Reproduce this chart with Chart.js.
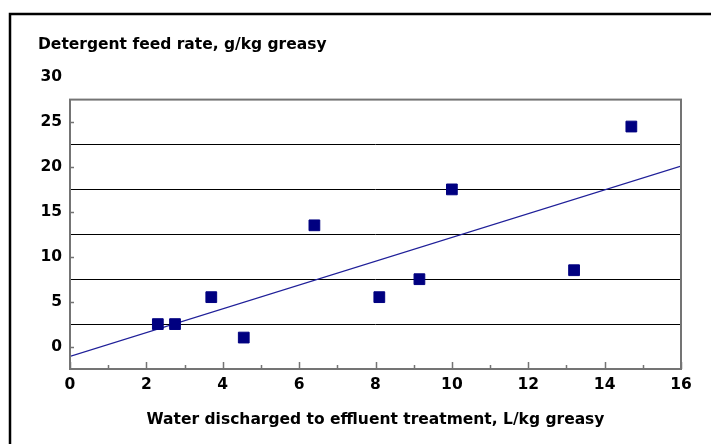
<!DOCTYPE html>
<html>
<head>
<meta charset="utf-8">
<script src="https://cdn.jsdelivr.net/npm/chart.js@4/dist/chart.umd.min.js"></script>
<style>
  html, body { margin: 0; padding: 0; background: #ffffff; }
  #wrap { width: 711px; height: 444px; position: relative; }
</style>
</head>
<body>
<div id="wrap"><canvas id="c" width="711" height="444"></canvas></div>
<script>
// Water discharged (L/kg greasy) against detergent feed rate (g/kg greasy)
const waterDischarged = [2.3, 2.75, 3.7, 4.55, 6.4, 8.1, 9.15, 10.0, 13.2, 14.7];
const detergentRate   = [2.5, 2.5, 5.5, 1.0, 13.5, 5.5, 7.5, 17.5, 8.5, 24.5];

// Linear trend line end points
const trendX = [0, 16];
const trendY = [-1.1, 20.1];

// Axis labelling
const yTickLabels = [0, 5, 10, 15, 20, 25, 30];
const yGridValues = [2.5, 7.5, 12.5, 17.5, 22.5];
const xTickValues = [0, 1, 2, 3, 4, 5, 6, 7, 8, 9, 10, 11, 12, 13, 14, 15, 16];

const FONT = { family: '"DejaVu Sans", sans-serif', size: 15.5, weight: 'bold' };
const FRAME = '#747474';

// Outer frame, plot frame and inward tick marks
const decorations = {
  id: 'decorations',
  beforeDraw(chart) {
    const ctx = chart.ctx;
    ctx.save();
    ctx.fillStyle = '#ffffff';
    ctx.fillRect(0, 0, chart.width, chart.height);
    ctx.strokeStyle = '#000000';
    ctx.lineWidth = 2.5;
    ctx.beginPath();
    ctx.moveTo(10, chart.height + 5);
    ctx.lineTo(10, 14);
    ctx.lineTo(chart.width + 5, 14);
    ctx.stroke();
    ctx.restore();
  },
  afterDraw(chart) {
    const ctx = chart.ctx;
    const a = chart.chartArea;
    const xs = chart.scales.x, ys = chart.scales.y;
    ctx.save();
    ctx.strokeStyle = FRAME;
    ctx.lineWidth = 2;
    ctx.strokeRect(a.left, a.top, a.right - a.left, a.bottom - a.top);
    ctx.lineWidth = 1.5;
    ctx.beginPath();
    xTickValues.forEach(v => {
      const px = Math.round(xs.getPixelForValue(v)) + 0.5;
      const len = (v % 2 === 0) ? 7 : 4;
      ctx.moveTo(px, a.bottom);
      ctx.lineTo(px, a.bottom - len);
    });
    yTickLabels.forEach(v => {
      const py = ys.getPixelForValue(v);
      if (py < a.top || py > a.bottom) return;
      ctx.moveTo(a.left, Math.round(py) + 0.5);
      ctx.lineTo(a.left + 4, Math.round(py) + 0.5);
    });
    ctx.stroke();
    ctx.restore();
  }
};

new Chart(document.getElementById('c'), {
  type: 'scatter',
  data: {
    datasets: [
      {
        label: 'Detergent feed rate',
        data: waterDischarged.map((x, i) => ({ x: x, y: detergentRate[i] })),
        pointStyle: 'rect',
        pointRadius: 7.6,
        pointHoverRadius: 7.6,
        backgroundColor: '#000080',
        borderColor: '#000080',
        borderWidth: 1
      },
      {
        label: 'Trend',
        data: trendX.map((x, i) => ({ x: x, y: trendY[i] })),
        showLine: true,
        pointRadius: 0,
        borderColor: '#1f1f99',
        borderWidth: 1.2,
        fill: false
      }
    ]
  },
  options: {
    responsive: false,
    animation: false,
    events: [],
    layout: { padding: { left: 38, right: 30, top: 0, bottom: 0 } },
    plugins: {
      legend: { display: false },
      tooltip: { enabled: false },
      title: {
        display: true,
        text: 'Detergent feed rate, g/kg greasy',
        align: 'start',
        color: '#000000',
        font: FONT,
        padding: { top: 36, bottom: 45 }
      }
    },
    scales: {
      x: {
        type: 'linear',
        min: 0,
        max: 16,
        afterBuildTicks(scale) {
          scale.ticks = xTickValues.map(v => ({ value: v }));
        },
        afterFit(scale) { scale.height = 75; },
        ticks: {
          autoSkip: false,
          maxRotation: 0,
          color: '#000000',
          font: FONT,
          padding: 7,
          callback: v => (v % 2 === 0 ? String(v) : '')
        },
        grid: { display: false, drawTicks: false },
        border: { display: false },
        title: {
          display: true,
          text: 'Water discharged to effluent treatment, L/kg greasy',
          color: '#000000',
          font: FONT,
          padding: { top: 0, bottom: 15 }
        }
      },
      y: {
        type: 'linear',
        min: -2.5,
        max: 27.5,
        afterBuildTicks(scale) {
          scale.ticks = yTickLabels.concat(yGridValues)
            .sort((p, q) => p - q)
            .map(v => ({ value: v }));
        },
        afterFit(scale) { scale.width = 32; },
        ticks: {
          autoSkip: false,
          color: '#000000',
          font: FONT,
          padding: 8,
          callback: v => (yTickLabels.includes(v) ? String(v) : '')
        },
        grid: {
          drawTicks: false,
          lineWidth: 1,
          color: ctx => (ctx.tick && yGridValues.includes(ctx.tick.value) ? '#000000' : 'rgba(0,0,0,0)')
        },
        border: { display: false }
      }
    }
  },
  plugins: [decorations]
});
</script>
</body>
</html>
